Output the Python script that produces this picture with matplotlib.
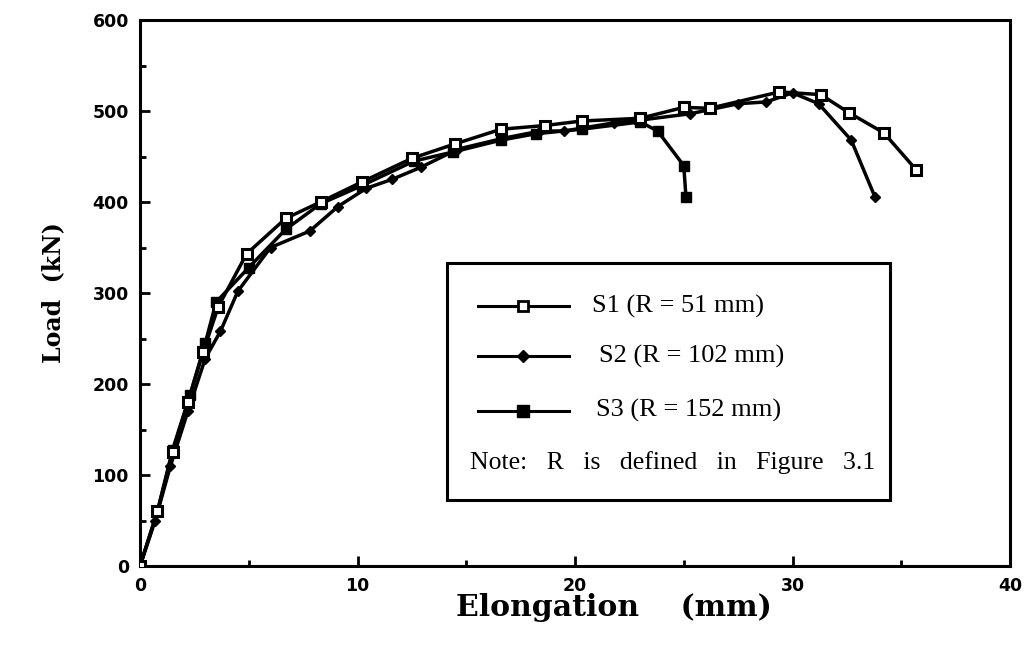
import numpy as np
import matplotlib.pyplot as plt
from matplotlib.patches import Rectangle
from matplotlib.lines import Line2D
from matplotlib.ticker import MultipleLocator

# S1 (R = 51 mm)
s1_elong = [0, 0.8, 1.5, 2.2, 2.9, 3.6, 4.9, 6.7, 8.3, 10.2, 12.5, 14.5, 16.6,
            18.6, 20.3, 23.0, 25.0, 26.2, 29.4, 31.3, 32.6, 34.2, 35.7]
s1_load = [0, 60, 125, 180, 235, 285, 343, 382, 400, 422, 448, 464, 480,
           484, 489, 492, 504, 503, 521, 518, 498, 476, 435]

# S2 (R = 102 mm)
s2_elong = [0, 0.7, 1.4, 2.2, 3.0, 3.7, 4.5, 6.0, 7.8, 9.1, 10.4, 11.6, 12.9,
            14.6, 16.7, 18.4, 19.5, 21.8, 23.0, 25.3, 27.5, 28.8, 30.0, 31.2,
            32.7, 33.8]
s2_load = [0, 50, 110, 170, 228, 258, 302, 350, 368, 395, 415, 425, 438,
           458, 470, 478, 478, 487, 490, 497, 508, 510, 520, 508, 468, 405]

# S3 (R = 152 mm)
s3_elong = [0, 0.8, 1.5, 2.3, 3.0, 3.5, 5.0, 6.7, 8.3, 10.2, 12.6, 14.4, 16.6,
            18.2, 20.3, 23.0, 23.8, 25.0, 25.1]
s3_load = [0, 60, 128, 188, 245, 290, 328, 370, 398, 418, 445, 455, 468,
           475, 480, 488, 478, 440, 406]

labels = ["S1 (R = 51 mm)", "S2 (R = 102 mm)", "S3 (R = 152 mm)"]
note = "Note:   R   is   defined   in   Figure   3.1"

fig = plt.figure(figsize=(10.34, 6.58), dpi=100)
ax = fig.add_axes([0.1354, 0.1398, 0.8414, 0.8298])

ax.plot(s2_elong, s2_load, color="black", lw=2.5, marker="D", ms=5.5,
        mfc="black", mec="black", zorder=3)
ax.plot(s3_elong, s3_load, color="black", lw=2.5, marker="s", ms=7.5,
        mfc="black", mec="black", zorder=4)
ax.plot(s1_elong, s1_load, color="black", lw=2.5, marker="s", ms=7.5,
        mfc="white", mec="black", mew=2.2, zorder=5)

ax.set_xlim(0, 40)
ax.set_ylim(0, 600)
ax.xaxis.set_major_locator(MultipleLocator(10))
ax.xaxis.set_minor_locator(MultipleLocator(5))
ax.yaxis.set_major_locator(MultipleLocator(100))
ax.yaxis.set_minor_locator(MultipleLocator(50))
ax.tick_params(which="major", direction="in", length=7, width=2,
               top=False, right=False, pad=8)
ax.tick_params(which="minor", direction="in", length=4, width=2,
               top=False, right=False)
for lab in ax.get_xticklabels() + ax.get_yticklabels():
    lab.set_fontweight("bold")
    lab.set_fontsize(12.5)
    lab.set_family("DejaVu Sans")
for sp in ax.spines.values():
    sp.set_linewidth(2.2)

ax.set_xlabel("Elongation    (mm)", fontsize=21.5, fontweight="bold",
              family="DejaVu Serif")
ax.xaxis.set_label_coords(0.545, -0.05)
ax.set_ylabel("Load  (kN)", fontsize=17, fontweight="bold",
              family="DejaVu Serif", labelpad=20)

# legend box drawn by hand
box = Rectangle((0.353, 0.121), 0.509, 0.434, transform=ax.transAxes,
                fill=True, facecolor="white", edgecolor="black", lw=2.2,
                zorder=6)
ax.add_patch(box)
styles = [dict(marker="s", mfc="white", mec="black", mew=2, ms=7),
          dict(marker="D", mfc="black", mec="black", ms=6),
          dict(marker="s", mfc="black", mec="black", ms=8)]
rows = [0.476, 0.384, 0.284]
text_x = [0.52, 0.528, 0.524]
for lab, st, yy, tx in zip(labels, styles, rows, text_x):
    ln = Line2D([0.388, 0.493], [yy, yy], transform=ax.transAxes,
                color="black", lw=2.2, zorder=7)
    ax.add_line(ln)
    ax.plot([0.44], [yy], transform=ax.transAxes, color="black",
            ls="none", zorder=8, **st)
    ax.text(tx, yy, lab, transform=ax.transAxes, fontsize=19,
            family="Liberation Serif", va="center", ha="left", zorder=8)
ax.text(0.379, 0.19, note, transform=ax.transAxes, fontsize=18.5,
        family="Liberation Serif", va="center", ha="left", zorder=8)

fig.savefig("out.png", dpi=100)
